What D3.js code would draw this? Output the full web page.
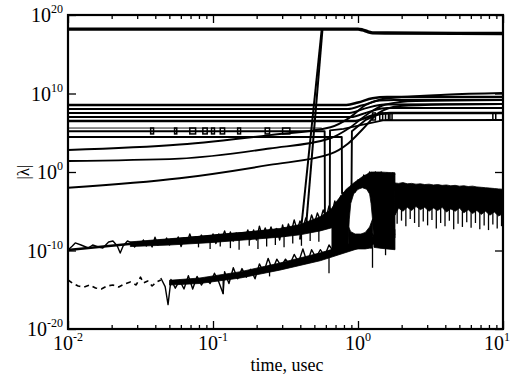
<!DOCTYPE html>
<html>
<head>
<meta charset="utf-8">
<script src="https://cdn.jsdelivr.net/npm/d3@7"></script>
<style>
    body { margin: 0; background: #fff; }
</style>
</head>
<body>
<div id="chart"></div>
<script>

// every point below is [log10 time (usec), log10 |lambda|]

// tick labels
const xTickExps = [-2, -1, 0, 1];
const yTickExps = [-20, -10, 0, 10, 20];

// large eigenvalue at the top
const topLine = [[-2, 18.2], [0.0, 18.2], [0.03, 18.1], [0.07, 17.85], [0.1, 17.72], [0.2, 17.7], [1, 17.65]];

// eigenvalues that jump up to the top one
const spikeA = [[-0.40, -8.6], [-0.25, 18.2]];
const spikeB = [[-0.36, -7.3], [-0.245, 18.2]];

// flat eigenvalues that step up near t = 1
const flat1 = [[-2, 8.54], [-0.08, 8.54], [0.0, 8.85], [0.1, 9.4], [0.2, 9.55], [1, 9.55]];
const flat2 = [[-2, 8.03], [-0.07, 8.03], [0.03, 8.5], [0.15, 9.1], [0.25, 9.17], [1, 9.17]];
const flat3 = [[-2, 7.52], [-0.06, 7.52], [0.05, 8.1], [0.18, 8.6], [1, 8.66]];
const flat4 = [[-2, 7.0], [-0.05, 7.0], [0.08, 7.7], [0.2, 8.15], [1, 8.15]];
const flat5 = [[-2, 6.5], [-0.03, 6.5], [0.1, 7.2], [0.22, 7.52], [1, 7.52]];
const flat6 = [[-2, 5.6], [-0.25, 5.6]];
const flat7 = [[-2, 5.2], [-0.23, 5.2], [-0.228, -6.1], [-0.195, -6.1], [-0.193, 5.3], [-0.1, 5.5], [0.05, 6.1], [0.18, 6.6], [1, 6.62]];
const flat8 = [[-2, 4.46], [-0.112, 4.46], [-0.11, -2.7], [-0.045, -2.7], [-0.042, 5.2], [0.05, 6.6], [0.15, 7.4], [0.25, 7.52], [1, 7.52]];

// small boxes on the flat lines: [t start, t end, low, high]
const glitches = [
    [-1.43, -1.41, 4.85, 5.6], [-1.265, -1.25, 4.85, 5.6], [-1.16, -1.12, 4.85, 5.6],
    [-1.07, -1.04, 4.85, 5.6], [-1.01, -0.99, 4.85, 5.6], [-0.95, -0.92, 4.85, 5.6],
    [-0.83, -0.81, 4.85, 5.6], [-0.64, -0.61, 4.85, 5.6], [-0.52, -0.47, 4.85, 5.6],
    [0.10, 0.12, 6.62, 7.52], [0.15, 0.17, 6.62, 7.52], [0.19, 0.21, 6.62, 7.52],
    [0.22, 0.235, 6.62, 7.52], [0.93, 0.95, 6.62, 7.52]
];

// rising eigenvalues
const curveA = [[-2, 2.8], [-1.23, 3.5], [-0.61, 4.7], [-0.19, 5.7], [-0.06, 6.9], [0.05, 8.5], [0.15, 9.2], [0.3, 9.55], [0.6, 9.85], [1, 10.06]];
const curveB = [[-2, 1.4], [-1.23, 1.7], [-0.61, 3.0], [-0.19, 4.3], [-0.06, 5.6], [0.06, 7.3], [0.19, 8.6], [0.4, 9.05], [1, 9.17]];
const curveC = [[-2, -2.0], [-1.23, -0.8], [-0.61, 0.9], [-0.19, 2.3], [-0.07, 3.6], [0.04, 5.6], [0.14, 7.5], [0.29, 8.4], [0.6, 8.6], [1, 8.66]];

// smooth line under the upper noisy band
const baseLine = [[-2.0, -9.94], [-0.95, -8.03], [-0.40, -7.2]];

// upper noisy band
const noiseUpper = [
    [-2.00, -9.94], [-1.97, -9.43], [-1.95, -9.04], [-1.91, -9.30], [-1.86, -9.68], [-1.83, -9.30],
    [-1.79, -9.55], [-1.76, -9.68], [-1.72, -8.92], [-1.69, -8.79], [-1.66, -9.43], [-1.64, -10.32],
    [-1.62, -9.43], [-1.59, -8.79], [-1.56, -9.04], [-1.54, -9.55], [-1.52, -8.92], [-1.50, -9.30],
    [-1.48, -8.66], [-1.46, -9.43], [-1.44, -8.79], [-1.42, -9.55], [-1.40, -8.30], [-1.38, -9.30],
    [-1.36, -8.66], [-1.34, -9.17], [-1.32, -8.41], [-1.30, -9.30], [-1.28, -8.70], [-1.26, -9.04],
    [-1.24, -8.28], [-1.22, -9.50], [-1.20, -8.41], [-1.18, -9.04], [-1.16, -7.90], [-1.14, -8.92],
    [-1.12, -8.28], [-1.10, -8.80], [-1.08, -8.03], [-1.06, -8.79], [-1.04, -8.40], [-1.02, -8.92],
    [-1.00, -7.90], [-0.98, -9.10], [-0.96, -7.90], [-0.94, -8.54], [-0.92, -7.50], [-0.90, -8.66],
    [-0.88, -7.64], [-0.86, -8.80], [-0.84, -7.77], [-0.82, -8.66], [-0.80, -7.90], [-0.78, -8.41],
    [-0.76, -7.39], [-0.74, -8.60], [-0.72, -7.39], [-0.70, -8.66], [-0.68, -6.90], [-0.66, -8.15],
    [-0.64, -7.13], [-0.62, -8.10], [-0.60, -7.01], [-0.58, -8.03], [-0.56, -7.20], [-0.54, -8.66],
    [-0.52, -6.75], [-0.50, -8.20], [-0.48, -6.62], [-0.46, -7.64], [-0.44, -6.10], [-0.42, -7.39],
    [-0.40, -6.24], [-0.38, -7.13], [-0.36, -5.86], [-0.34, -6.88], [-0.32, -5.48], [-0.30, -6.50],
    [-0.28, -5.22], [-0.26, -6.11], [-0.24, -4.84], [-0.22, -5.86], [-0.20, -4.33], [-0.18, -5.22],
    [-0.16, -3.70], [-0.14, -4.84], [-0.12, -3.06], [-0.10, -3.95], [-0.08, -2.29], [-0.06, -3.31],
    [-0.04, -1.66], [-0.02, -2.55], [0.00, -1.02], [0.02, -1.78], [0.04, -0.38], [0.06, -1.02],
    [0.08, 0.0], [0.10, -0.76], [0.12, 0.0], [0.14, -0.64], [0.16, 0.0], [0.18, -0.64],
    [0.20, -0.13], [0.22, -0.51], [0.24, -0.13], [0.255, -0.38]
];
// solid core of the upper band: [t, top, bottom]
const bandUpper = [
    [-1.57, -8.9, -9.5], [-1.30, -8.5, -9.3], [-1.02, -8.1, -9.0], [-0.745, -7.6, -8.6],
    [-0.54, -7.2, -8.3], [-0.40, -6.7, -8.0], [-0.26, -5.7, -7.5], [-0.16, -4.4, -7.0]
];

// hairs hanging under the upper band: [t, from, to]
const hairsUpper = [
    [-1.10, -8.3, -9.6], [-1.02, -8.4, -9.8], [-0.95, -8.0, -9.5], [-0.88, -7.8, -9.7],
    [-0.82, -7.9, -9.9], [-0.75, -7.6, -9.4], [-0.69, -7.5, -9.8], [-0.63, -7.4, -9.5],
    [-0.57, -7.2, -9.3], [-0.51, -7.0, -9.6], [-0.45, -6.8, -9.1], [-0.39, -6.6, -9.4],
    [-0.33, -6.2, -8.8], [-0.27, -5.8, -8.9]
];

// dashed eigenvalue at the lower left
const dashedLine = [
    [-2.00, -13.76], [-1.97, -14.14], [-1.93, -14.52], [-1.89, -14.65], [-1.85, -14.39], [-1.81, -14.78],
    [-1.77, -14.90], [-1.73, -14.52], [-1.69, -14.39], [-1.65, -14.65], [-1.61, -14.26], [-1.57, -14.01],
    [-1.53, -14.39], [-1.50, -13.4], [-1.48, -14.14], [-1.45, -13.88], [-1.42, -14.52], [-1.39, -14.01],
    [-1.36, -13.76]
];

// lower noisy band
const noiseLower = [
    [-1.36, -13.5], [-1.33, -14.6], [-1.31, -16.9], [-1.29, -13.7], [-1.26, -14.8], [-1.23, -13.8],
    [-1.20, -14.9], [-1.17, -13.2], [-1.14, -14.9], [-1.11, -13.3], [-1.08, -14.4], [-1.05, -13.5],
    [-1.02, -14.2], [-0.99, -12.9], [-0.96, -14.0], [-0.93, -15.5], [-0.92, -12.7], [-0.89, -14.2],
    [-0.86, -12.2], [-0.83, -13.6], [-0.80, -12.3], [-0.77, -13.4], [-0.74, -12.4], [-0.71, -13.6],
    [-0.68, -11.7], [-0.65, -12.8], [-0.62, -11.0], [-0.59, -12.5], [-0.56, -11.1], [-0.53, -12.0],
    [-0.50, -11.1], [-0.47, -11.8], [-0.44, -10.5], [-0.41, -11.5], [-0.38, -9.8], [-0.35, -11.6],
    [-0.32, -9.9], [-0.29, -10.9], [-0.26, -9.9], [-0.23, -10.7], [-0.20, -9.3], [-0.17, -10.1],
    [-0.14, -8.7], [-0.11, -10.2], [-0.08, -8.8], [-0.05, -9.9], [-0.02, -8.6], [0.01, -9.6],
    [0.04, -8.2], [0.07, -9.3], [0.10, -7.9], [0.13, -8.9], [0.16, -7.6], [0.19, -8.6],
    [0.22, -7.2], [0.255, -8.0]
];
// solid core of the lower band: [t, top, bottom]
const bandLower = [
    [-1.30, -13.8, -14.4], [-1.09, -13.5, -14.2], [-0.81, -12.7, -13.5], [-0.54, -11.6, -12.5],
    [-0.26, -10.3, -11.3], [0.01, -8.8, -9.7], [0.255, -7.3, -8.4]
];
const hairsLower = [[-0.93, -13.4, -15.5], [-0.61, -11.8, -13.3], [-0.20, -10.0, -12.9], [0.10, -9.6, -12.2], [0.19, -8.6, -10.6]];

// dense black regions: [t, top, bottom]
const blobUpper = [
    [-0.18, -4.6, -9.9], [-0.15, -3.8, -10.0], [-0.12, -3.1, -10.0], [-0.09, -2.4, -9.9],
    [-0.07, -2.0, -9.8], [-0.06, -1.9, -6.0], [-0.05, -1.7, -4.0], [-0.03, -1.4, -2.8],
    [0.0, -1.0, -2.2], [0.03, -0.6, -2.0], [0.06, -0.3, -2.2], [0.08, -0.1, -2.8],
    [0.09, 0.0, -4.0], [0.10, 0.0, -6.0], [0.11, 0.0, -9.6], [0.15, 0.0, -9.7],
    [0.20, -0.05, -9.8], [0.255, -0.1, -9.9]
];
const blobLower = [
    [-0.065, -7.0, -9.8], [-0.05, -7.6, -9.8], [-0.02, -7.9, -9.8], [0.02, -7.9, -9.8],
    [0.05, -7.7, -9.8], [0.08, -7.0, -9.7], [0.10, -6.0, -9.7]
];
const blockRight = [
    [0.255, -1.40, -5.5], [0.28, -1.45, -4.6], [0.31, -1.35, -5.0], [0.34, -1.5, -4.5],
    [0.37, -1.45, -4.9], [0.40, -1.55, -4.4], [0.43, -1.5, -4.8], [0.46, -1.6, -4.5],
    [0.49, -1.55, -5.0], [0.52, -1.65, -4.6], [0.55, -1.6, -4.9], [0.58, -1.7, -4.5],
    [0.61, -1.65, -5.1], [0.64, -1.75, -4.7], [0.67, -1.7, -5.0], [0.70, -1.8, -4.6],
    [0.73, -1.75, -5.2], [0.76, -1.85, -4.8], [0.79, -1.8, -5.3], [0.82, -1.9, -4.9],
    [0.85, -1.95, -5.4], [0.88, -2.0, -5.0], [0.91, -2.05, -5.5], [0.94, -2.1, -5.1],
    [0.97, -2.15, -5.6], [1.00, -2.2, -5.3]
];
const hairsRight = [
    [0.27, -4.5, -6.6], [0.30, -4.5, -6.2], [0.33, -4.5, -6.9], [0.36, -4.5, -6.0], [0.39, -4.5, -6.5],
    [0.42, -4.5, -7.0], [0.45, -4.5, -6.3], [0.48, -4.5, -6.8], [0.51, -4.5, -6.1], [0.54, -4.5, -7.2],
    [0.57, -4.5, -6.5], [0.60, -4.5, -6.9], [0.63, -4.5, -6.2], [0.66, -4.5, -7.3], [0.69, -4.5, -6.6],
    [0.72, -4.5, -7.0], [0.75, -4.5, -6.4], [0.78, -4.5, -7.1], [0.81, -4.5, -6.5], [0.84, -4.5, -7.3],
    [0.87, -4.5, -6.8], [0.90, -4.5, -7.4], [0.93, -4.5, -6.7], [0.96, -4.5, -7.2], [0.99, -4.5, -6.9]
];


const width = 522;
const height = 378;
const margins = { top: 15, bottom: 49, left: 68, right: 19 };
const fontFamily = '"Liberation Serif", "Times New Roman", "DejaVu Serif", serif';

// creating svg
const chartSVG = d3.select('#chart')
    .append('svg')
    .attr('width', width)
    .attr('height', height)
    .attr('font-family', fontFamily);

// scales
const xScale = d3.scaleLog()
    .domain([1e-2, 1e1])
    .range([margins.left, width - margins.right]);

const yScale = d3.scaleLog()
    .domain([1e-20, 1e20])
    .range([height - margins.bottom, margins.top]);

const px = (lt) => xScale(Math.pow(10, lt));
const py = (le) => yScale(Math.pow(10, le));

const lineGenerator = d3.line()
    .x(d => px(d[0]))
    .y(d => py(d[1]));

const smoothGenerator = d3.line()
    .curve(d3.curveMonotoneX)
    .x(d => px(d[0]))
    .y(d => py(d[1]));

const areaGenerator = d3.area()
    .x(d => px(d[0]))
    .y0(d => py(d[2]))
    .y1(d => py(d[1]));

const dataGroup = chartSVG.append('g').attr('class', 'data-group');

function render_area( data ) {
    dataGroup.append('path')
        .datum(data)
        .attr('fill', '#000')
        .attr('stroke', '#000')
        .attr('stroke-width', 0.8)
        .attr('d', areaGenerator);
}

function render_line( data, strokeWidth, options = {} ) {
    dataGroup.append('path')
        .datum(data)
        .attr('fill', 'none')
        .attr('stroke', '#000')
        .attr('stroke-width', strokeWidth)
        .attr('stroke-linejoin', 'round')
        .attr('stroke-dasharray', options.dash || null)
        .attr('d', options.smooth ? smoothGenerator : lineGenerator);
}

function render_hairs( data, strokeWidth ) {
    dataGroup.selectAll(null)
        .data(data)
        .enter()
        .append('line')
        .attr('x1', d => px(d[0]))
        .attr('x2', d => px(d[0]))
        .attr('y1', d => py(d[1]))
        .attr('y2', d => py(d[2]))
        .attr('stroke', '#000')
        .attr('stroke-width', strokeWidth);
}

// noise regions
render_area(blobUpper);
render_area(blobLower);
render_area(blockRight);
render_hairs(hairsRight, 1.3);
render_area(bandUpper);
render_line(noiseUpper, 1.4);
render_hairs(hairsUpper, 1.3);
render_line(baseLine, 2.4);
render_area(bandLower);
render_line(noiseLower, 1.4);
render_hairs(hairsLower, 1.3);
render_line(dashedLine, 1.6, { dash: '5,4' });

// eigenvalue lines
render_line(curveA, 1.9, { smooth: true });
render_line(curveB, 1.9, { smooth: true });
render_line(curveC, 1.9, { smooth: true });
render_line(flat1, 2.6, { smooth: true });
render_line(flat2, 1.9, { smooth: true });
render_line(flat3, 1.9, { smooth: true });
render_line(flat4, 1.9, { smooth: true });
render_line(flat5, 2.4, { smooth: true });
render_line(flat6, 0.9);
render_line(flat7, 1.9);
render_line(flat8, 1.9);
render_line(spikeA, 2);
render_line(spikeB, 2);
render_line(topLine, 3.4, { smooth: true });

// glitch boxes
dataGroup.selectAll(null)
    .data(glitches)
    .enter()
    .append('rect')
    .attr('x', d => px(d[0]))
    .attr('y', d => py(d[3]))
    .attr('width', d => px(d[1]) - px(d[0]))
    .attr('height', d => py(d[2]) - py(d[3]))
    .attr('fill', 'none')
    .attr('stroke', '#000')
    .attr('stroke-width', 1.5);

// axes (ticks point inward)
const x0 = margins.left, x1 = width - margins.right;
const y0 = height - margins.bottom, y1 = margins.top;

const majorX = xTickExps.map(e => Math.pow(10, e));
const minorX = xScale.ticks().filter(v => Math.abs(Math.log10(v) - Math.round(Math.log10(v))) > 1e-6);
const majorY = yTickExps.map(e => Math.pow(10, e));

function create_axis( axis, transform ) {
    const g = chartSVG.append('g')
        .attr('class', 'axis-group')
        .attr('transform', transform)
        .call(axis);
    g.select('.domain').remove();
    g.selectAll('line').attr('stroke', '#000').attr('stroke-width', 1.3);
}

create_axis(d3.axisBottom(xScale).tickValues(majorX).tickSize(-8).tickFormat(''), `translate(0,${y0})`);
create_axis(d3.axisBottom(xScale).tickValues(minorX).tickSize(-4).tickFormat(''), `translate(0,${y0})`);
create_axis(d3.axisTop(xScale).tickValues(majorX).tickSize(-8).tickFormat(''), `translate(0,${y1})`);
create_axis(d3.axisTop(xScale).tickValues(minorX).tickSize(-4).tickFormat(''), `translate(0,${y1})`);
create_axis(d3.axisLeft(yScale).tickValues(majorY).tickSize(-8).tickFormat(''), `translate(${x0},0)`);
create_axis(d3.axisRight(yScale).tickValues(majorY).tickSize(-8).tickFormat(''), `translate(${x1},0)`);

// frame
chartSVG.append('rect')
    .attr('x', x0)
    .attr('y', y1)
    .attr('width', x1 - x0)
    .attr('height', y0 - y1)
    .attr('fill', 'none')
    .attr('stroke', '#000')
    .attr('stroke-width', 2.2);

// tick labels
const xLabels = chartSVG.append('g').attr('class', 'label-group');
xTickExps.forEach((e, i) => {
    const t = xLabels.append('text')
        .attr('x', px(e) + (i === xTickExps.length - 1 ? -6 : 0))
        .attr('y', y0 + 21)
        .attr('text-anchor', 'middle')
        .attr('font-size', 20);
    t.append('tspan').text('10');
    t.append('tspan').attr('font-size', 12).attr('dy', -9).text(e);
});

const yLabels = chartSVG.append('g').attr('class', 'label-group');
yTickExps.forEach(e => {
    const t = yLabels.append('text')
        .attr('x', x0 - 5)
        .attr('y', py(e) + 7)
        .attr('text-anchor', 'end')
        .attr('font-size', 20);
    t.append('tspan').text('10');
    t.append('tspan').attr('font-size', 12).attr('dy', -9).text(e);
});

// axis titles
chartSVG.append('text')
    .attr('x', 287)
    .attr('y', 371)
    .attr('text-anchor', 'middle')
    .attr('font-size', 18)
    .text('time, usec');

chartSVG.append('text')
    .attr('transform', `translate(23,${py(0)}) rotate(-90)`)
    .attr('text-anchor', 'middle')
    .attr('dominant-baseline', 'central')
    .attr('font-size', 17)
    .text('|λ|');

</script>
</body>
</html>
